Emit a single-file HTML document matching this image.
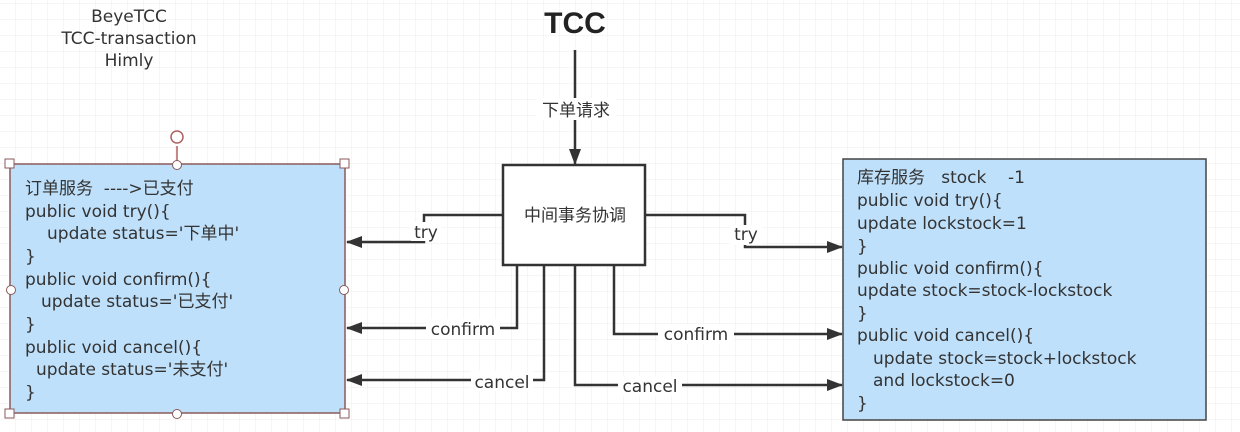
<!DOCTYPE html>
<html><head><meta charset="utf-8"><style>
html,body{margin:0;padding:0;background:#fff}
svg{display:block}
text{font-family:"DejaVu Sans","Noto Sans CJK SC",sans-serif;fill:#333;font-size:17px}
</style></head><body>
<svg width="1240" height="432" viewBox="0 0 1240 432" xmlns="http://www.w3.org/2000/svg">
<defs>
<pattern id="g" width="16" height="16" patternUnits="userSpaceOnUse" x="0" y="4">
<path d="M16 0V16M0 16H16" fill="none" stroke="#ececec" stroke-width="1"/>
</pattern>
<marker id="a" markerWidth="16" markerHeight="12" refX="15" refY="6" orient="auto" markerUnits="userSpaceOnUse">
<path d="M0 0L16 6L0 12Z" fill="#333"/>
</marker>
</defs>
<rect width="1240" height="432" fill="url(#g)"/>

<text x="129" y="22" text-anchor="middle">BeyeTCC</text>
<text x="129" y="44" text-anchor="middle">TCC-transaction</text>
<text x="129" y="66" text-anchor="middle">Himly</text>
<text x="575" y="33" text-anchor="middle" style="font-size:30px;font-weight:bold;fill:#222;font-family:'Liberation Sans',sans-serif">TCC</text>

<!-- left box -->
<rect x="10" y="164" width="335" height="249" fill="#bfe0fb" stroke="#8b5a5a" stroke-width="1.5"/>
<line x1="177" y1="146" x2="177" y2="164" stroke="#b06060" stroke-width="1.5"/>
<circle cx="177" cy="137" r="6" fill="#fff" stroke="#b06060" stroke-width="1.5"/>
<g fill="#fff" stroke="#8b5a5a" stroke-width="1">
<rect x="5" y="159" width="9" height="9"/><rect x="340" y="159" width="9" height="9"/>
<rect x="5" y="409" width="9" height="9"/><rect x="340" y="409" width="9" height="9"/>
<circle cx="177" cy="165" r="4.5"/><circle cx="177" cy="414" r="4.5"/>
<circle cx="11" cy="290" r="4.5"/><circle cx="344" cy="290" r="4.5"/>
</g>
<g>
<text x="25" y="194">订单服务 &#160;----&gt;已支付</text>
<text x="25" y="217">public void try(){</text>
<text x="47" y="239">update status='下单中'</text>
<text x="25" y="262">}</text>
<text x="25" y="285">public void confirm(){</text>
<text x="41" y="307">update status='已支付'</text>
<text x="25" y="330">}</text>
<text x="25" y="353">public void cancel(){</text>
<text x="36" y="375">update status='未支付'</text>
<text x="25" y="398">}</text>
</g>

<!-- right box -->
<rect x="843" y="159" width="363" height="261" fill="#bfe0fb" stroke="#444" stroke-width="1.5"/>
<g>
<text x="857" y="183">库存服务 &#160; stock &#160; &#160;-1</text>
<text x="857" y="206">public void try(){</text>
<text x="857" y="229">update lockstock=1</text>
<text x="857" y="252">}</text>
<text x="857" y="274">public void confirm(){</text>
<text x="857" y="296">update stock=stock-lockstock</text>
<text x="857" y="319">}</text>
<text x="857" y="341">public void cancel(){</text>
<text x="873" y="364">update stock=stock+lockstock</text>
<text x="873" y="386">and lockstock=0</text>
<text x="857" y="409">}</text>
</g>

<!-- center -->
<g fill="none" stroke="#333" stroke-width="2.5">
<rect x="503" y="165" width="142" height="100" fill="#fff"/>
<line x1="575" y1="50" x2="575" y2="164" marker-end="url(#a)"/>
<polyline points="503,215 424,215 424,242 347,242" marker-end="url(#a)"/>
<polyline points="646,215 745,215 745,247 842,247" marker-end="url(#a)"/>
<polyline points="517,266 517,328 347,328" marker-end="url(#a)"/>
<polyline points="544,266 544,380 347,380" marker-end="url(#a)"/>
<polyline points="614,266 614,334 842,334" marker-end="url(#a)"/>
<polyline points="575,266 575,385 842,385" marker-end="url(#a)"/>
</g>
<text x="575" y="221" text-anchor="middle">中间事务协调</text>
<rect x="536" y="98" width="80" height="22" fill="#fff"/>
<text x="576" y="116" text-anchor="middle">下单请求</text>
<rect x="411" y="222" width="30" height="19" fill="#fff"/>
<text x="426" y="238" text-anchor="middle">try</text>
<rect x="730" y="225" width="32" height="20" fill="#fff"/>
<text x="746" y="240" text-anchor="middle">try</text>
<rect x="426" y="319" width="74" height="20" fill="#fff"/>
<text x="463" y="335" text-anchor="middle">confirm</text>
<rect x="471" y="371" width="62" height="20" fill="#fff"/>
<text x="502" y="388" text-anchor="middle">cancel</text>
<rect x="658" y="324" width="76" height="20" fill="#fff"/>
<text x="696" y="340" text-anchor="middle">confirm</text>
<rect x="618" y="376" width="64" height="20" fill="#fff"/>
<text x="650" y="392" text-anchor="middle">cancel</text>
</svg>
</body></html>
